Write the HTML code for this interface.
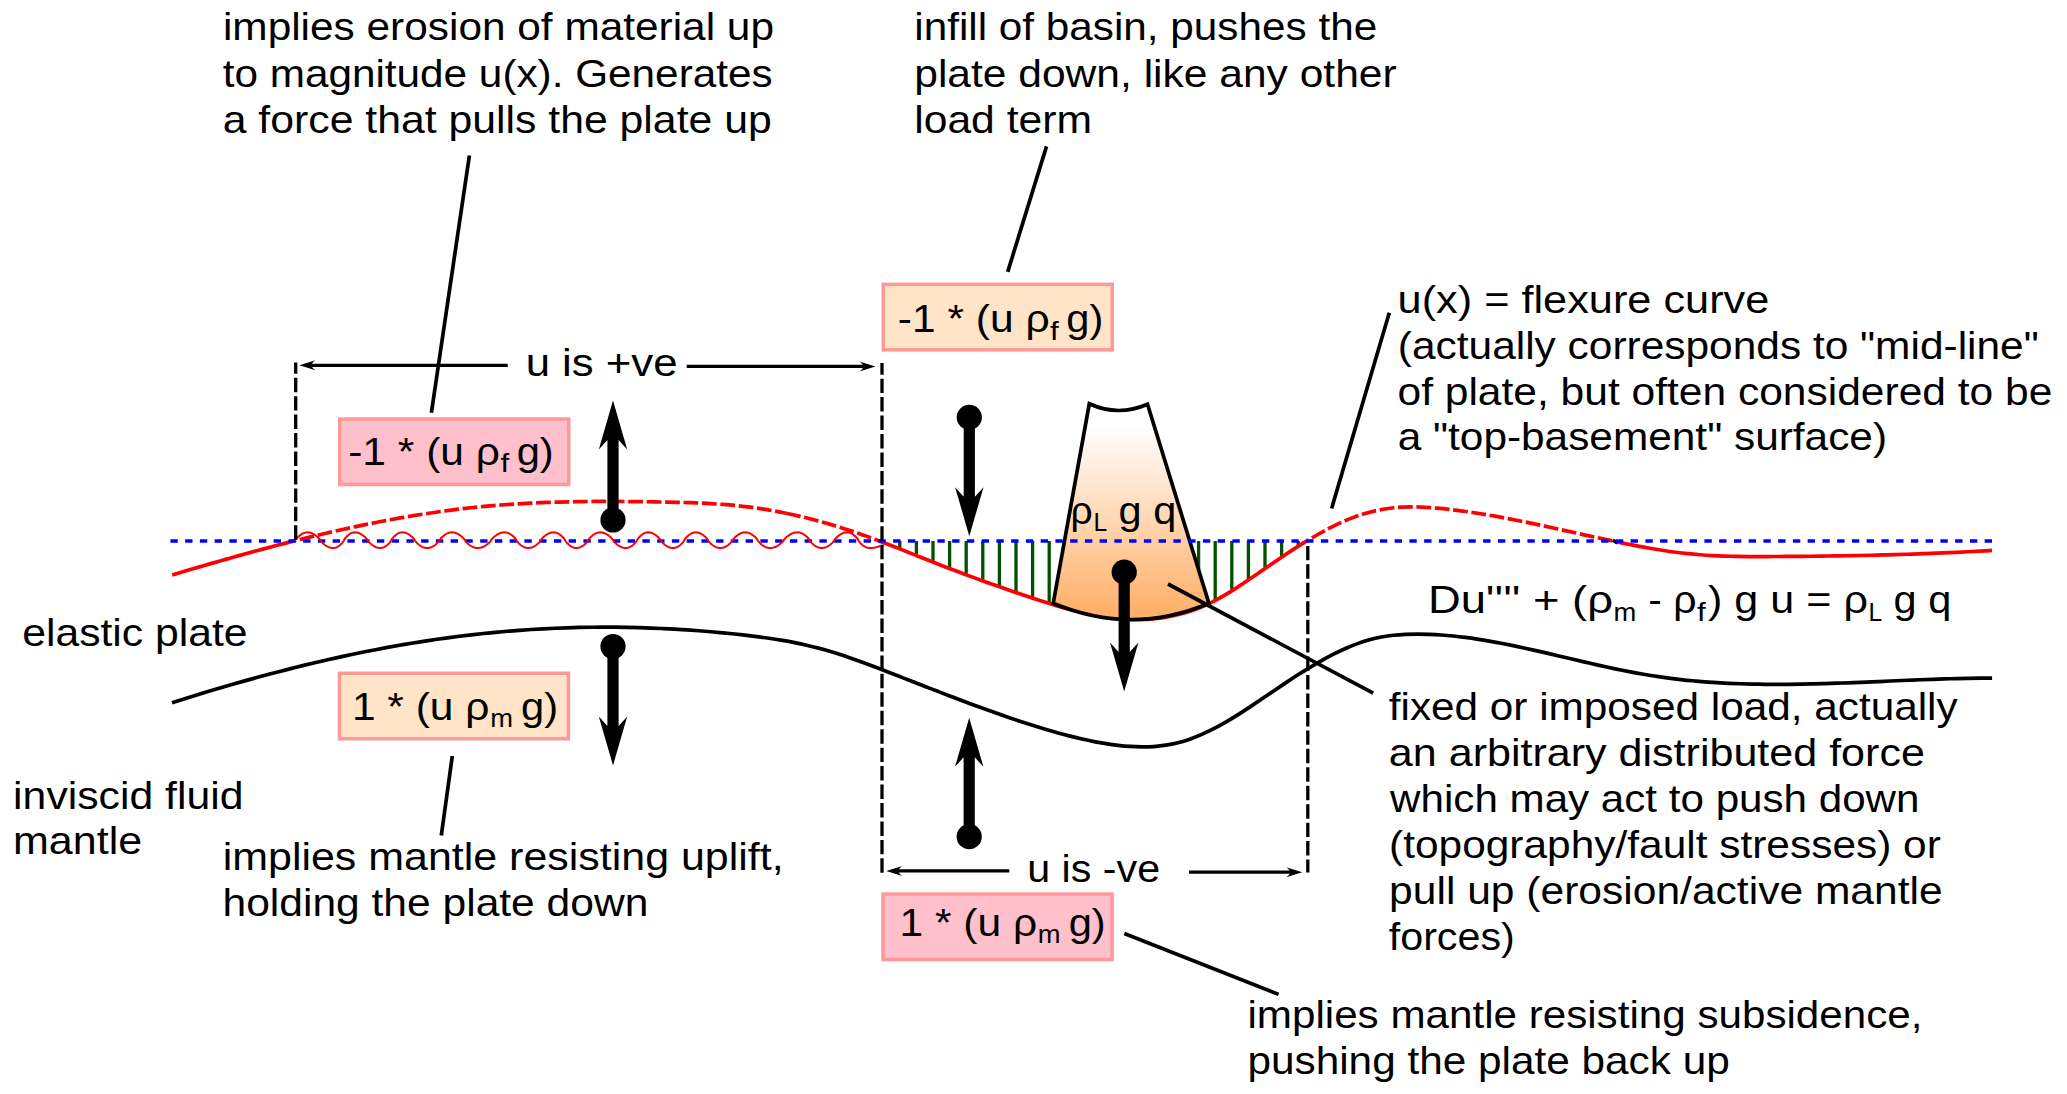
<!DOCTYPE html>
<html><head><meta charset="utf-8"><style>
html,body{margin:0;padding:0;background:#fff;width:2067px;height:1094px;overflow:hidden}
svg{display:block}
text{font-family:"Liberation Sans",sans-serif;fill:#000}
</style></head><body>
<svg width="2067" height="1094" viewBox="0 0 2067 1094">
<defs><linearGradient id="lg" x1="0" y1="425" x2="0" y2="622" gradientUnits="userSpaceOnUse">
<stop offset="0" stop-color="#ffffff"/><stop offset="1" stop-color="#ffac62"/></linearGradient></defs>
<rect width="2067" height="1094" fill="#fff"/>

<path d="M899.80,541 L899.80,547.91 M916.40,541 L916.40,554.52 M933.00,541 L933.00,561.08 M949.60,541 L949.60,567.52 M966.20,541 L966.20,573.79 M982.80,541 L982.80,579.87 M999.40,541 L999.40,585.77 M1016.00,541 L1016.00,591.53 M1032.60,541 L1032.60,597.14 M1049.20,541 L1049.20,602.47 M1065.80,541 L1065.80,607.33 M1082.40,541 L1082.40,611.53 M1099.00,541 L1099.00,614.90 M1115.60,541 L1115.60,617.23 M1132.20,541 L1132.20,618.36 M1148.80,541 L1148.80,618.10 M1165.40,541 L1165.40,616.26 M1182.00,541 L1182.00,612.66 M1198.60,541 L1198.60,607.11 M1215.20,541 L1215.20,599.44 M1231.80,541 L1231.80,589.83 M1248.40,541 L1248.40,578.95 M1265.00,541 L1265.00,567.52 M1281.60,541 L1281.60,556.17 M1298.20,541 L1298.20,545.30" stroke="#005200" stroke-width="3.3" fill="none"/>
<path d="M172.20,574.90 C174.95,574.09 177.69,573.27 180.44,572.46 C183.19,571.65 185.93,570.84 188.68,570.03 C191.43,569.23 194.17,568.42 196.92,567.62 C199.67,566.82 202.41,566.02 205.16,565.23 C207.91,564.43 210.65,563.64 213.40,562.85 C216.15,562.07 218.89,561.28 221.64,560.50 C224.39,559.72 227.13,558.94 229.88,558.17 C232.63,557.40 235.37,556.63 238.12,555.86 C240.87,555.10 243.61,554.34 246.36,553.58 C249.11,552.83 251.85,552.08 254.60,551.33 C257.35,550.59 260.09,549.84 262.84,549.11 C265.59,548.37 268.33,547.64 271.08,546.92 C273.83,546.19 276.57,545.47 279.32,544.76 C282.07,544.04 284.81,543.34 287.56,542.63 C290.31,541.93 293.05,541.24 295.80,540.55" stroke="#ff0000" stroke-width="3.7" fill="none"/>
<path d="M295.80,540.55 C299.79,539.55 303.77,538.56 307.76,537.58 C311.74,536.61 315.73,535.65 319.72,534.71 C323.70,533.76 327.69,532.83 331.68,531.92 C335.66,531.00 339.65,530.11 343.63,529.22 C347.62,528.34 351.61,527.48 355.59,526.63 C359.58,525.78 363.57,524.96 367.55,524.14 C371.54,523.33 375.52,522.54 379.51,521.77 C383.50,520.99 387.48,520.24 391.47,519.50 C395.45,518.77 399.44,518.05 403.43,517.36 C407.41,516.67 411.40,516.00 415.39,515.34 C419.37,514.69 423.36,514.06 427.34,513.46 C431.33,512.85 435.32,512.27 439.30,511.71 C443.29,511.15 447.27,510.61 451.26,510.10 C455.25,509.59 459.23,509.10 463.22,508.63 C467.21,508.17 471.19,507.73 475.18,507.32 C479.16,506.91 483.15,506.52 487.14,506.16 C491.12,505.80 495.11,505.47 499.10,505.15 C503.08,504.84 507.07,504.55 511.05,504.28 C515.04,504.02 519.03,503.77 523.01,503.55 C527.00,503.32 530.98,503.12 534.97,502.94 C538.96,502.75 542.94,502.59 546.93,502.44 C550.92,502.30 554.90,502.17 558.89,502.06 C562.87,501.94 566.86,501.85 570.85,501.77 C574.83,501.69 578.82,501.62 582.80,501.57 C586.79,501.52 590.78,501.49 594.76,501.46 C598.75,501.44 602.74,501.43 606.72,501.43 C610.71,501.43 614.69,501.44 618.68,501.46 C622.67,501.48 626.65,501.51 630.64,501.55 C634.63,501.59 638.61,501.64 642.60,501.70 C646.58,501.75 650.57,501.81 654.56,501.88 C658.54,501.95 662.53,502.02 666.51,502.10 C670.50,502.18 674.49,502.27 678.47,502.37 C682.46,502.47 686.45,502.58 690.43,502.72 C694.42,502.85 698.40,503.01 702.39,503.19 C706.38,503.38 710.36,503.59 714.35,503.84 C718.33,504.08 722.32,504.37 726.31,504.69 C730.29,505.01 734.28,505.38 738.27,505.79 C742.25,506.20 746.24,506.66 750.22,507.18 C754.21,507.70 758.20,508.27 762.18,508.89 C766.17,509.51 770.16,510.19 774.14,510.91 C778.13,511.64 782.11,512.42 786.10,513.24" stroke="#ff0000" stroke-width="3.7" fill="none" stroke-dasharray="14.8,3.63" stroke-dashoffset="14.37"/>
<path d="M786.10,513.24 C788.07,513.65 790.03,514.07 792.00,514.50 C793.97,514.93 795.93,515.38 797.90,515.83 C799.87,516.29 801.83,516.75 803.80,517.23 C805.77,517.71 807.73,518.20 809.70,518.70 C811.67,519.21 813.63,519.72 815.60,520.24 C817.57,520.77 819.53,521.30 821.50,521.85 C823.47,522.40 825.43,522.96 827.40,523.52 C829.37,524.09 831.33,524.67 833.30,525.26 C835.27,525.85 837.23,526.45 839.20,527.07 C841.17,527.68 843.13,528.30 845.10,528.93 C847.07,529.56 849.03,530.21 851.00,530.86 C852.97,531.51 854.93,532.18 856.90,532.85 C858.87,533.52 860.83,534.21 862.80,534.90 C864.77,535.59 866.73,536.30 868.70,537.01 C870.67,537.72 872.63,538.45 874.60,539.18 C876.57,539.91 878.53,540.65 880.50,541.40" stroke="#ff0000" stroke-width="3.7" fill="none" stroke-dasharray="14.8,3.63"/>
<path d="M880.50,541.40 C884.45,542.90 888.39,544.43 892.34,545.97 C896.29,547.52 900.24,549.08 904.18,550.65 C908.13,552.22 912.08,553.80 916.02,555.37 C919.97,556.94 923.92,558.51 927.87,560.06 C931.81,561.62 935.76,563.16 939.71,564.70 C943.66,566.23 947.60,567.76 951.55,569.27 C955.50,570.78 959.44,572.27 963.39,573.75 C967.34,575.22 971.29,576.68 975.23,578.13 C979.18,579.57 983.13,580.99 987.08,582.41 C991.02,583.82 994.97,585.21 998.92,586.60 C1002.86,587.98 1006.81,589.36 1010.76,590.72 C1014.71,592.08 1018.65,593.44 1022.60,594.78 C1026.55,596.12 1030.49,597.45 1034.44,598.75 C1038.39,600.05 1042.34,601.33 1046.28,602.57 C1050.23,603.80 1054.18,605.00 1058.12,606.16 C1062.07,607.31 1066.02,608.41 1069.97,609.46 C1073.91,610.50 1077.86,611.48 1081.81,612.40 C1085.76,613.31 1089.70,614.15 1093.65,614.92 C1097.60,615.68 1101.54,616.36 1105.49,616.94 C1109.44,617.53 1113.39,618.02 1117.33,618.41 C1121.28,618.80 1125.23,619.09 1129.17,619.26 C1133.12,619.43 1137.07,619.48 1141.02,619.41 C1144.96,619.34 1148.91,619.14 1152.86,618.80 C1156.81,618.47 1160.75,618.00 1164.70,617.37 C1168.65,616.75 1172.59,615.98 1176.54,615.05 C1180.49,614.12 1184.44,613.03 1188.38,611.77 C1192.33,610.50 1196.28,609.07 1200.22,607.46 C1204.17,605.84 1208.12,604.04 1212.07,602.06 C1216.01,600.07 1219.96,597.90 1223.91,595.60 C1227.86,593.30 1231.80,590.86 1235.75,588.33 C1239.70,585.80 1243.64,583.17 1247.59,580.50 C1251.54,577.82 1255.49,575.10 1259.43,572.37 C1263.38,569.64 1267.33,566.90 1271.27,564.19 C1275.22,561.48 1279.17,558.80 1283.12,556.16 C1287.06,553.51 1291.01,550.91 1294.96,548.37 C1298.91,545.83 1302.85,543.35 1306.80,540.95" stroke="#ff0000" stroke-width="3.7" fill="none"/>
<path d="M1306.80,540.95 C1310.75,538.55 1314.70,536.23 1318.65,534.00 C1322.59,531.78 1326.54,529.65 1330.49,527.64 C1334.44,525.63 1338.39,523.73 1342.34,521.97 C1346.29,520.21 1350.24,518.58 1354.18,517.11 C1358.13,515.64 1362.08,514.31 1366.03,513.17 C1369.98,512.02 1373.93,511.04 1377.88,510.23 C1381.83,509.42 1385.77,508.77 1389.72,508.27 C1393.67,507.77 1397.62,507.41 1401.57,507.20 C1405.52,506.98 1409.47,506.90 1413.42,506.93 C1417.36,506.96 1421.31,507.10 1425.26,507.32 C1429.21,507.54 1433.16,507.84 1437.11,508.19 C1441.06,508.55 1445.01,508.95 1448.95,509.39 C1452.90,509.83 1456.85,510.31 1460.80,510.83 C1464.75,511.35 1468.70,511.91 1472.65,512.50 C1476.59,513.09 1480.54,513.72 1484.49,514.37 C1488.44,515.02 1492.39,515.71 1496.34,516.42 C1500.29,517.13 1504.24,517.86 1508.18,518.62 C1512.13,519.37 1516.08,520.15 1520.03,520.95 C1523.98,521.74 1527.93,522.56 1531.88,523.39 C1535.83,524.21 1539.77,525.05 1543.72,525.91 C1547.67,526.76 1551.62,527.62 1555.57,528.48 C1559.52,529.35 1563.47,530.22 1567.42,531.10 C1571.36,531.97 1575.31,532.85 1579.26,533.73 C1583.21,534.60 1587.16,535.47 1591.11,536.34 C1595.06,537.21 1599.01,538.07 1602.95,538.92 C1606.90,539.77 1610.85,540.61 1614.80,541.44" stroke="#ff0000" stroke-width="3.7" fill="none" stroke-dasharray="14.8,3.63" stroke-dashoffset="12.48"/>
<path d="M1614.80,541.44 C1618.86,542.29 1622.91,543.13 1626.97,543.94 C1631.02,544.76 1635.08,545.55 1639.14,546.31 C1643.19,547.08 1647.25,547.81 1651.30,548.51 C1655.36,549.21 1659.42,549.88 1663.47,550.50 C1667.53,551.12 1671.58,551.70 1675.64,552.23 C1679.69,552.76 1683.75,553.24 1687.81,553.66 C1691.86,554.08 1695.92,554.44 1699.97,554.76 C1704.03,555.07 1708.09,555.33 1712.14,555.55 C1716.20,555.76 1720.25,555.94 1724.31,556.07 C1728.37,556.21 1732.42,556.31 1736.48,556.39 C1740.53,556.46 1744.59,556.51 1748.65,556.54 C1752.70,556.56 1756.76,556.57 1760.81,556.57 C1764.87,556.56 1768.92,556.54 1772.98,556.52 C1777.04,556.50 1781.09,556.48 1785.15,556.45 C1789.20,556.42 1793.26,556.39 1797.32,556.36 C1801.37,556.32 1805.43,556.28 1809.48,556.24 C1813.54,556.20 1817.60,556.15 1821.65,556.10 C1825.71,556.05 1829.76,556.00 1833.82,555.94 C1837.88,555.88 1841.93,555.81 1845.99,555.74 C1850.04,555.67 1854.10,555.60 1858.15,555.51 C1862.21,555.43 1866.27,555.35 1870.32,555.26 C1874.38,555.16 1878.43,555.07 1882.49,554.96 C1886.55,554.86 1890.60,554.75 1894.66,554.63 C1898.71,554.51 1902.77,554.39 1906.83,554.26 C1910.88,554.13 1914.94,553.99 1918.99,553.85 C1923.05,553.70 1927.11,553.55 1931.16,553.39 C1935.22,553.23 1939.27,553.07 1943.33,552.89 C1947.38,552.72 1951.44,552.54 1955.50,552.35 C1959.55,552.16 1963.61,551.96 1967.66,551.75 C1971.72,551.54 1975.78,551.33 1979.83,551.10 C1983.89,550.88 1987.94,550.64 1992.00,550.40" stroke="#ff0000" stroke-width="3.7" fill="none"/>
<path d="M1089.3,403.8 Q1118,417 1147.5,404.2 L1208.9,603.3 Q1132,636 1053.2,603.3 Z" fill="url(#lg)" stroke="#000" stroke-width="3.7" stroke-linejoin="miter"/>
<path d="M1612.8,540.2 L1617.6,543" stroke="#000" stroke-width="3.6" fill="none"/>
<path d="M170.4,541 L1992,541" stroke="#0000ff" stroke-width="3.7" stroke-dasharray="7.37,7.38" fill="none"/>
<path d="M294.60,540.20 L295.65,539.18 L296.70,538.17 L297.75,537.20 L298.80,536.28 L299.85,535.42 L300.90,534.65 L301.95,533.97 L303.00,533.40 L304.05,532.95 L305.10,532.62 L306.15,532.42 L307.20,532.35 L308.29,532.40 L309.38,532.56 L310.46,532.83 L311.55,533.20 L312.64,533.68 L313.73,534.25 L314.81,534.92 L315.90,535.69 L316.99,536.56 L318.07,537.54 L319.16,538.66 L320.25,540.20 L321.34,541.74 L322.43,542.86 L323.51,543.84 L324.60,544.71 L325.69,545.48 L326.77,546.15 L327.86,546.72 L328.95,547.20 L330.04,547.57 L331.12,547.84 L332.21,548.00 L333.30,548.05 L334.20,548.00 L335.09,547.84 L335.99,547.57 L336.88,547.20 L337.78,546.72 L338.68,546.15 L339.57,545.48 L340.47,544.71 L341.36,543.84 L342.26,542.86 L343.15,541.74 L344.05,540.20 L344.95,538.66 L345.84,537.54 L346.74,536.56 L347.63,535.69 L348.53,534.92 L349.43,534.25 L350.32,533.68 L351.22,533.20 L352.11,532.83 L353.01,532.56 L353.90,532.40 L354.80,532.35 L355.86,532.40 L356.93,532.56 L357.99,532.83 L359.05,533.20 L360.11,533.68 L361.18,534.25 L362.24,534.92 L363.30,535.69 L364.36,536.56 L365.43,537.54 L366.49,538.66 L367.55,540.20 L368.61,541.74 L369.68,542.86 L370.74,543.84 L371.80,544.71 L372.86,545.48 L373.93,546.15 L374.99,546.72 L376.05,547.20 L377.11,547.57 L378.18,547.84 L379.24,548.00 L380.30,548.05 L381.22,548.00 L382.13,547.84 L383.05,547.57 L383.97,547.20 L384.88,546.72 L385.80,546.15 L386.72,545.48 L387.63,544.71 L388.55,543.84 L389.47,542.86 L390.38,541.74 L391.30,540.20 L392.22,538.66 L393.13,537.54 L394.05,536.56 L394.97,535.69 L395.88,534.92 L396.80,534.25 L397.72,533.68 L398.63,533.20 L399.55,532.83 L400.47,532.56 L401.38,532.40 L402.30,532.35 L403.34,532.40 L404.38,532.56 L405.41,532.83 L406.45,533.20 L407.49,533.68 L408.52,534.25 L409.56,534.92 L410.60,535.69 L411.64,536.56 L412.68,537.54 L413.71,538.66 L414.75,540.20 L415.79,541.74 L416.82,542.86 L417.86,543.84 L418.90,544.71 L419.94,545.48 L420.98,546.15 L422.01,546.72 L423.05,547.20 L424.09,547.57 L425.12,547.84 L426.16,548.00 L427.20,548.05 L428.23,548.00 L429.27,547.84 L430.30,547.57 L431.33,547.20 L432.37,546.72 L433.40,546.15 L434.43,545.48 L435.47,544.71 L436.50,543.84 L437.53,542.86 L438.57,541.74 L439.60,540.20 L440.63,538.66 L441.67,537.54 L442.70,536.56 L443.73,535.69 L444.77,534.92 L445.80,534.25 L446.83,533.68 L447.87,533.20 L448.90,532.83 L449.93,532.56 L450.97,532.40 L452.00,532.35 L453.07,532.40 L454.14,532.56 L455.21,532.83 L456.28,533.20 L457.35,533.68 L458.43,534.25 L459.50,534.92 L460.57,535.69 L461.64,536.56 L462.71,537.54 L463.78,538.66 L464.85,540.20 L465.92,541.74 L466.99,542.86 L468.06,543.84 L469.13,544.71 L470.20,545.48 L471.27,546.15 L472.35,546.72 L473.42,547.20 L474.49,547.57 L475.56,547.84 L476.63,548.00 L477.70,548.05 L478.82,548.00 L479.94,547.84 L481.06,547.57 L482.18,547.20 L483.30,546.72 L484.43,546.15 L485.55,545.48 L486.67,544.71 L487.79,543.84 L488.91,542.86 L490.03,541.74 L491.15,540.20 L492.27,538.66 L493.39,537.54 L494.51,536.56 L495.63,535.69 L496.75,534.92 L497.88,534.25 L499.00,533.68 L500.12,533.20 L501.24,532.83 L502.36,532.56 L503.48,532.40 L504.60,532.35 L505.58,532.40 L506.57,532.56 L507.55,532.83 L508.53,533.20 L509.52,533.68 L510.50,534.25 L511.48,534.92 L512.47,535.69 L513.45,536.56 L514.43,537.54 L515.42,538.66 L516.40,540.20 L517.38,541.74 L518.37,542.86 L519.35,543.84 L520.33,544.71 L521.32,545.48 L522.30,546.15 L523.28,546.72 L524.27,547.20 L525.25,547.57 L526.23,547.84 L527.22,548.00 L528.20,548.05 L529.26,548.00 L530.32,547.84 L531.38,547.57 L532.43,547.20 L533.49,546.72 L534.55,546.15 L535.61,545.48 L536.67,544.71 L537.73,543.84 L538.78,542.86 L539.84,541.74 L540.90,540.20 L541.96,538.66 L543.02,537.54 L544.08,536.56 L545.13,535.69 L546.19,534.92 L547.25,534.25 L548.31,533.68 L549.37,533.20 L550.43,532.83 L551.48,532.56 L552.54,532.40 L553.60,532.35 L554.55,532.40 L555.50,532.56 L556.45,532.83 L557.40,533.20 L558.35,533.68 L559.30,534.25 L560.25,534.92 L561.20,535.69 L562.15,536.56 L563.10,537.54 L564.05,538.66 L565.00,540.20 L565.95,541.74 L566.90,542.86 L567.85,543.84 L568.80,544.71 L569.75,545.48 L570.70,546.15 L571.65,546.72 L572.60,547.20 L573.55,547.57 L574.50,547.84 L575.45,548.00 L576.40,548.05 L577.39,548.00 L578.38,547.84 L579.38,547.57 L580.37,547.20 L581.36,546.72 L582.35,546.15 L583.34,545.48 L584.33,544.71 L585.33,543.84 L586.32,542.86 L587.31,541.74 L588.30,540.20 L589.29,538.66 L590.28,537.54 L591.27,536.56 L592.27,535.69 L593.26,534.92 L594.25,534.25 L595.24,533.68 L596.23,533.20 L597.23,532.83 L598.22,532.56 L599.21,532.40 L600.20,532.35 L601.27,532.40 L602.34,532.56 L603.41,532.83 L604.48,533.20 L605.55,533.68 L606.62,534.25 L607.70,534.92 L608.77,535.69 L609.84,536.56 L610.91,537.54 L611.98,538.66 L613.05,540.20 L614.12,541.74 L615.19,542.86 L616.26,543.84 L617.33,544.71 L618.40,545.48 L619.48,546.15 L620.55,546.72 L621.62,547.20 L622.69,547.57 L623.76,547.84 L624.83,548.00 L625.90,548.05 L626.82,548.00 L627.75,547.84 L628.67,547.57 L629.60,547.20 L630.52,546.72 L631.45,546.15 L632.38,545.48 L633.30,544.71 L634.23,543.84 L635.15,542.86 L636.08,541.74 L637.00,540.20 L637.92,538.66 L638.85,537.54 L639.77,536.56 L640.70,535.69 L641.62,534.92 L642.55,534.25 L643.48,533.68 L644.40,533.20 L645.33,532.83 L646.25,532.56 L647.18,532.40 L648.10,532.35 L649.14,532.40 L650.18,532.56 L651.23,532.83 L652.27,533.20 L653.31,533.68 L654.35,534.25 L655.39,534.92 L656.43,535.69 L657.48,536.56 L658.52,537.54 L659.56,538.66 L660.60,540.20 L661.64,541.74 L662.68,542.86 L663.73,543.84 L664.77,544.71 L665.81,545.48 L666.85,546.15 L667.89,546.72 L668.93,547.20 L669.98,547.57 L671.02,547.84 L672.06,548.00 L673.10,548.05 L674.04,548.00 L674.98,547.84 L675.93,547.57 L676.87,547.20 L677.81,546.72 L678.75,546.15 L679.69,545.48 L680.63,544.71 L681.58,543.84 L682.52,542.86 L683.46,541.74 L684.40,540.20 L685.34,538.66 L686.28,537.54 L687.23,536.56 L688.17,535.69 L689.11,534.92 L690.05,534.25 L690.99,533.68 L691.93,533.20 L692.88,532.83 L693.82,532.56 L694.76,532.40 L695.70,532.35 L696.72,532.40 L697.75,532.56 L698.77,532.83 L699.79,533.20 L700.81,533.68 L701.84,534.25 L702.86,534.92 L703.88,535.69 L704.91,536.56 L705.93,537.54 L706.95,538.66 L707.98,540.20 L709.00,541.74 L710.02,542.86 L711.04,543.84 L712.07,544.71 L713.09,545.48 L714.11,546.15 L715.14,546.72 L716.16,547.20 L717.18,547.57 L718.20,547.84 L719.23,548.00 L720.25,548.05 L721.29,548.00 L722.33,547.84 L723.37,547.57 L724.41,547.20 L725.45,546.72 L726.49,546.15 L727.53,545.48 L728.57,544.71 L729.61,543.84 L730.65,542.86 L731.69,541.74 L732.73,540.20 L733.76,538.66 L734.80,537.54 L735.84,536.56 L736.88,535.69 L737.92,534.92 L738.96,534.25 L740.00,533.68 L741.04,533.20 L742.08,532.83 L743.12,532.56 L744.16,532.40 L745.20,532.35 L746.24,532.40 L747.28,532.56 L748.31,532.83 L749.35,533.20 L750.39,533.68 L751.43,534.25 L752.46,534.92 L753.50,535.69 L754.54,536.56 L755.58,537.54 L756.61,538.66 L757.65,540.20 L758.69,541.74 L759.73,542.86 L760.76,543.84 L761.80,544.71 L762.84,545.48 L763.88,546.15 L764.91,546.72 L765.95,547.20 L766.99,547.57 L768.02,547.84 L769.06,548.00 L770.10,548.05 L771.24,548.00 L772.38,547.84 L773.52,547.57 L774.67,547.20 L775.81,546.72 L776.95,546.15 L778.09,545.48 L779.23,544.71 L780.38,543.84 L781.52,542.86 L782.66,541.74 L783.80,540.20 L784.94,538.66 L786.08,537.54 L787.23,536.56 L788.37,535.69 L789.51,534.92 L790.65,534.25 L791.79,533.68 L792.93,533.20 L794.08,532.83 L795.22,532.56 L796.36,532.40 L797.50,532.35 L798.51,532.40 L799.52,532.56 L800.52,532.83 L801.53,533.20 L802.54,533.68 L803.55,534.25 L804.56,534.92 L805.57,535.69 L806.58,536.56 L807.58,537.54 L808.59,538.66 L809.60,540.20 L810.61,541.74 L811.62,542.86 L812.62,543.84 L813.63,544.71 L814.64,545.48 L815.65,546.15 L816.66,546.72 L817.67,547.20 L818.68,547.57 L819.68,547.84 L820.69,548.00 L821.70,548.05 L822.76,548.00 L823.82,547.84 L824.88,547.57 L825.93,547.20 L826.99,546.72 L828.05,546.15 L829.11,545.48 L830.17,544.71 L831.23,543.84 L832.28,542.86 L833.34,541.74 L834.40,540.20 L835.46,538.66 L836.52,537.54 L837.58,536.56 L838.63,535.69 L839.69,534.92 L840.75,534.25 L841.81,533.68 L842.87,533.20 L843.93,532.83 L844.98,532.56 L846.04,532.40 L847.10,532.35 L848.04,532.40 L848.98,532.56 L849.91,532.83 L850.85,533.20 L851.79,533.68 L852.73,534.25 L853.66,534.92 L854.60,535.69 L855.54,536.56 L856.48,537.54 L857.41,538.66 L858.35,540.20 L859.29,541.74 L860.23,542.86 L861.16,543.84 L862.10,544.71 L863.04,545.48 L863.98,546.15 L864.91,546.72 L865.85,547.20 L866.79,547.57 L867.73,547.84 L868.66,548.00 L869.60,548.05 L870.49,548.03 L871.38,547.99 L872.27,547.91 L873.17,547.81 L874.06,547.67 L874.95,547.51 L875.84,547.32 L876.73,547.10 L877.62,546.85 L878.52,546.58 L879.41,546.28 L880.30,545.96" stroke="#ff0000" stroke-width="2" fill="none"/>
<path d="M172.00,702.77 C175.99,701.49 179.98,700.22 183.97,698.97 C187.97,697.72 191.96,696.48 195.95,695.25 C199.94,694.02 203.93,692.80 207.92,691.60 C211.91,690.40 215.91,689.21 219.90,688.03 C223.89,686.86 227.88,685.69 231.87,684.54 C235.86,683.40 239.85,682.26 243.85,681.14 C247.84,680.02 251.83,678.91 255.82,677.82 C259.81,676.72 263.80,675.64 267.79,674.58 C271.79,673.52 275.78,672.47 279.77,671.43 C283.76,670.40 287.75,669.38 291.74,668.38 C295.73,667.37 299.73,666.39 303.72,665.41 C307.71,664.44 311.70,663.49 315.69,662.55 C319.68,661.61 323.67,660.68 327.67,659.77 C331.66,658.87 335.65,657.98 339.64,657.10 C343.63,656.23 347.62,655.37 351.62,654.53 C355.61,653.69 359.60,652.87 363.59,652.06 C367.58,651.26 371.57,650.47 375.56,649.70 C379.56,648.93 383.55,648.18 387.54,647.44 C391.53,646.71 395.52,646.00 399.51,645.30 C403.50,644.60 407.50,643.92 411.49,643.27 C415.48,642.61 419.47,641.97 423.46,641.35 C427.45,640.72 431.44,640.12 435.44,639.54 C439.43,638.96 443.42,638.40 447.41,637.86 C451.40,637.31 455.39,636.79 459.38,636.29 C463.38,635.79 467.37,635.31 471.36,634.85 C475.35,634.39 479.34,633.95 483.33,633.53 C487.32,633.11 491.32,632.71 495.31,632.34 C499.30,631.96 503.29,631.60 507.28,631.27 C511.27,630.93 515.26,630.62 519.26,630.33 C523.25,630.03 527.24,629.76 531.23,629.51 C535.22,629.26 539.21,629.03 543.20,628.81 C547.20,628.60 551.19,628.41 555.18,628.24 C559.17,628.07 563.16,627.92 567.15,627.80 C571.14,627.67 575.14,627.56 579.13,627.47 C583.12,627.38 587.11,627.31 591.10,627.26 C595.09,627.22 599.08,627.19 603.08,627.18 C607.07,627.17 611.06,627.18 615.05,627.21 C619.04,627.24 623.03,627.30 627.03,627.37 C631.02,627.44 635.01,627.53 639.00,627.64 C642.99,627.75 646.98,627.88 650.97,628.03 C654.97,628.18 658.96,628.35 662.95,628.54 C666.94,628.73 670.93,628.93 674.92,629.16 C678.91,629.39 682.91,629.64 686.90,629.90 C690.89,630.17 694.88,630.45 698.87,630.76 C702.86,631.06 706.85,631.38 710.85,631.73 C714.84,632.07 718.83,632.43 722.82,632.81 C726.81,633.19 730.80,633.59 734.79,634.01 C738.79,634.43 742.78,634.86 746.77,635.33 C750.76,635.79 754.75,636.28 758.74,636.80 C762.73,637.33 766.73,637.89 770.72,638.48 C774.71,639.08 778.70,639.72 782.69,640.41 C786.68,641.10 790.67,641.84 794.67,642.63 C798.66,643.43 802.65,644.28 806.64,645.19 C810.63,646.10 814.62,647.08 818.61,648.12 C822.61,649.17 826.60,650.29 830.59,651.48 C834.58,652.68 838.57,653.95 842.56,655.27 C846.55,656.59 850.55,657.98 854.54,659.40 C858.53,660.82 862.52,662.29 866.51,663.78 C870.50,665.28 874.49,666.80 878.49,668.33 C882.48,669.86 886.47,671.40 890.46,672.95 C894.45,674.49 898.44,676.05 902.43,677.60 C906.43,679.15 910.42,680.71 914.41,682.26 C918.40,683.82 922.39,685.38 926.38,686.93 C930.37,688.48 934.37,690.03 938.36,691.57 C942.35,693.11 946.34,694.65 950.33,696.17 C954.32,697.70 958.32,699.21 962.31,700.72 C966.30,702.22 970.29,703.72 974.28,705.19 C978.27,706.67 982.26,708.13 986.26,709.58 C990.25,711.02 994.24,712.45 998.23,713.85 C1002.22,715.25 1006.21,716.64 1010.20,718.00 C1014.20,719.36 1018.19,720.69 1022.18,722.00 C1026.17,723.31 1030.16,724.60 1034.15,725.85 C1038.14,727.10 1042.14,728.33 1046.13,729.51 C1050.12,730.70 1054.11,731.86 1058.10,732.97 C1062.09,734.08 1066.08,735.14 1070.08,736.16 C1074.07,737.17 1078.06,738.14 1082.05,739.04 C1086.04,739.94 1090.03,740.79 1094.02,741.56 C1098.02,742.34 1102.01,743.04 1106.00,743.67 C1109.99,744.30 1113.98,744.86 1117.97,745.33 C1121.96,745.80 1125.96,746.18 1129.95,746.45 C1133.94,746.73 1137.93,746.89 1141.92,746.91 C1145.91,746.94 1149.90,746.82 1153.90,746.55 C1157.89,746.27 1161.88,745.83 1165.87,745.20 C1169.86,744.57 1173.85,743.75 1177.84,742.74 C1181.84,741.73 1185.83,740.54 1189.82,739.15 C1193.81,737.76 1197.80,736.18 1201.79,734.42 C1205.78,732.67 1209.78,730.74 1213.77,728.67 C1217.76,726.60 1221.75,724.39 1225.74,722.07 C1229.73,719.75 1233.72,717.33 1237.72,714.82 C1241.71,712.31 1245.70,709.72 1249.69,707.09 C1253.68,704.45 1257.67,701.77 1261.67,699.07 C1265.66,696.37 1269.65,693.65 1273.64,690.95 C1277.63,688.24 1281.62,685.55 1285.61,682.90 C1289.61,680.24 1293.60,677.62 1297.59,675.06 C1301.58,672.50 1305.57,670.00 1309.56,667.57 C1313.55,665.15 1317.55,662.80 1321.54,660.56 C1325.53,658.31 1329.52,656.16 1333.51,654.14 C1337.50,652.12 1341.49,650.21 1345.49,648.46 C1349.48,646.70 1353.47,645.08 1357.46,643.63 C1361.45,642.18 1365.44,640.90 1369.43,639.80 C1373.43,638.70 1377.42,637.79 1381.41,637.05 C1385.40,636.30 1389.39,635.72 1393.38,635.27 C1397.37,634.83 1401.37,634.52 1405.36,634.33 C1409.35,634.14 1413.34,634.06 1417.33,634.06 C1421.32,634.06 1425.31,634.15 1429.31,634.31 C1433.30,634.47 1437.29,634.69 1441.28,634.98 C1445.27,635.27 1449.26,635.62 1453.25,636.02 C1457.25,636.43 1461.24,636.90 1465.23,637.41 C1469.22,637.93 1473.21,638.49 1477.20,639.11 C1481.19,639.72 1485.19,640.37 1489.18,641.07 C1493.17,641.76 1497.16,642.50 1501.15,643.26 C1505.14,644.03 1509.13,644.83 1513.13,645.66 C1517.12,646.48 1521.11,647.33 1525.10,648.21 C1529.09,649.08 1533.08,649.97 1537.08,650.88 C1541.07,651.79 1545.06,652.71 1549.05,653.65 C1553.04,654.58 1557.03,655.52 1561.02,656.46 C1565.02,657.40 1569.01,658.35 1573.00,659.29 C1576.99,660.23 1580.98,661.16 1584.97,662.09 C1588.96,663.02 1592.96,663.94 1596.95,664.84 C1600.94,665.74 1604.93,666.63 1608.92,667.49 C1612.91,668.36 1616.90,669.20 1620.90,670.02 C1624.89,670.83 1628.88,671.62 1632.87,672.37 C1636.86,673.12 1640.85,673.84 1644.84,674.52 C1648.84,675.20 1652.83,675.84 1656.82,676.44 C1660.81,677.03 1664.80,677.59 1668.79,678.11 C1672.78,678.63 1676.78,679.11 1680.77,679.55 C1684.76,680.00 1688.75,680.41 1692.74,680.78 C1696.73,681.15 1700.72,681.49 1704.72,681.80 C1708.71,682.11 1712.70,682.39 1716.69,682.63 C1720.68,682.88 1724.67,683.10 1728.66,683.29 C1732.66,683.48 1736.65,683.64 1740.64,683.77 C1744.63,683.91 1748.62,684.02 1752.61,684.11 C1756.60,684.19 1760.60,684.26 1764.59,684.30 C1768.58,684.34 1772.57,684.36 1776.56,684.36 C1780.55,684.37 1784.54,684.35 1788.54,684.31 C1792.53,684.28 1796.52,684.23 1800.51,684.16 C1804.50,684.09 1808.49,684.01 1812.48,683.92 C1816.48,683.82 1820.47,683.72 1824.46,683.60 C1828.45,683.48 1832.44,683.35 1836.43,683.21 C1840.42,683.07 1844.42,682.93 1848.41,682.78 C1852.40,682.62 1856.39,682.46 1860.38,682.30 C1864.37,682.13 1868.37,681.97 1872.36,681.80 C1876.35,681.62 1880.34,681.45 1884.33,681.28 C1888.32,681.10 1892.31,680.93 1896.31,680.76 C1900.30,680.59 1904.29,680.42 1908.28,680.25 C1912.27,680.09 1916.26,679.92 1920.25,679.77 C1924.25,679.61 1928.24,679.46 1932.23,679.32 C1936.22,679.18 1940.21,679.05 1944.20,678.92 C1948.19,678.80 1952.19,678.69 1956.18,678.59 C1960.17,678.49 1964.16,678.40 1968.15,678.33 C1972.14,678.25 1976.13,678.19 1980.13,678.15 C1984.12,678.11 1988.11,678.09 1992.10,678.08" stroke="#000" stroke-width="3.7" fill="none"/>
<path d="M295.7,362.4 L295.7,540" stroke="#000" stroke-width="3.3" stroke-dasharray="14.45,4" fill="none" stroke-dashoffset="3.15"/>
<path d="M882,362.9 L882,872.7" stroke="#000" stroke-width="3.3" stroke-dasharray="14.45,4" fill="none" stroke-dashoffset="2.7"/>
<path d="M1307.8,545.9 L1307.8,872.5" stroke="#000" stroke-width="3.3" stroke-dasharray="14.45,4" fill="none"/>
<path d="M305,365.3 L507.7,365.3 M686.7,366.4 L869,366.4 M892,870.9 L1009.3,870.9 M1189,872.2 L1296,872.2" stroke="#000" stroke-width="3.2" fill="none"/>
<path d="M299.40,365.30 L315.40,360.30 C310.40,363.30 310.40,367.30 315.40,370.30 Z" fill="#000"/>
<path d="M875.40,366.40 L859.40,361.40 C864.40,364.40 864.40,368.40 859.40,371.40 Z" fill="#000"/>
<path d="M886.30,870.90 L902.30,865.90 C897.30,868.90 897.30,872.90 902.30,875.90 Z" fill="#000"/>
<path d="M1302.20,872.20 L1286.20,867.20 C1291.20,870.20 1291.20,874.20 1286.20,877.20 Z" fill="#000"/>
<rect x="883.25" y="284.35" width="229" height="65.5" fill="#ffe4c8" stroke="#ff9999" stroke-width="3.5"/>
<rect x="339.75" y="419.05" width="229" height="65.5" fill="#ffc0cb" stroke="#ff9999" stroke-width="3.5"/>
<rect x="339.45" y="673.25" width="229" height="65.5" fill="#ffe4c8" stroke="#ff9999" stroke-width="3.5"/>
<rect x="883.05" y="894.05" width="229" height="65.5" fill="#ffc0cb" stroke="#ff9999" stroke-width="3.5"/>
<path d="M607.40,520.00 L607.40,440.00 L598.80,449.50 L613.00,400.50 L627.20,449.50 L618.60,440.00 L618.60,520.00Z" fill="#000"/><circle cx="613" cy="520" r="12.6" fill="#000"/>
<path d="M607.40,646.50 L607.40,725.90 L598.80,716.40 L613.00,765.40 L627.20,716.40 L618.60,725.90 L618.60,646.50Z" fill="#000"/><circle cx="613" cy="646.5" r="12.6" fill="#000"/>
<path d="M963.70,417.30 L963.70,496.70 L955.10,487.20 L969.30,536.20 L983.50,487.20 L974.90,496.70 L974.90,417.30Z" fill="#000"/><circle cx="969.3" cy="417.3" r="12.6" fill="#000"/>
<path d="M1118.60,572.20 L1118.60,652.00 L1110.00,642.50 L1124.20,691.50 L1138.40,642.50 L1129.80,652.00 L1129.80,572.20Z" fill="#000"/><circle cx="1124.2" cy="572.2" r="12.6" fill="#000"/>
<path d="M963.60,836.70 L963.60,757.30 L955.00,766.80 L969.20,717.80 L983.40,766.80 L974.80,757.30 L974.80,836.70Z" fill="#000"/><circle cx="969.2" cy="836.7" r="12.6" fill="#000"/>
<path d="M469.4,155.4 L431.4,412.7" stroke="#000" stroke-width="3.7" fill="none"/>
<path d="M1046.5,146.4 L1007.7,271.9" stroke="#000" stroke-width="3.7" fill="none"/>
<path d="M1389.3,312.7 L1331.6,508.5" stroke="#000" stroke-width="3.7" fill="none"/>
<path d="M1168,584 L1373.2,693.1" stroke="#000" stroke-width="3.7" fill="none"/>
<path d="M452.3,756 L441.3,835.4" stroke="#000" stroke-width="3.7" fill="none"/>
<path d="M1124.3,933.5 L1278.6,994.4" stroke="#000" stroke-width="3.7" fill="none"/>
<text x="222.95" y="40.40" font-size="38.50" textLength="551.03" lengthAdjust="spacingAndGlyphs">implies erosion of material up</text>
<text x="222.65" y="86.70" font-size="38.50" textLength="550.00" lengthAdjust="spacingAndGlyphs">to magnitude u(x). Generates</text>
<text x="222.71" y="133.00" font-size="38.50" textLength="549.05" lengthAdjust="spacingAndGlyphs">a force that pulls the plate up</text>
<text x="914.26" y="40.40" font-size="38.50" textLength="462.91" lengthAdjust="spacingAndGlyphs">infill of basin, pushes the</text>
<text x="914.22" y="86.70" font-size="38.50" textLength="482.46" lengthAdjust="spacingAndGlyphs">plate down, like any other</text>
<text x="914.21" y="133.00" font-size="38.50" textLength="177.77" lengthAdjust="spacingAndGlyphs">load term</text>
<text x="1397.58" y="313.00" font-size="38.50" textLength="371.72" lengthAdjust="spacingAndGlyphs">u(x) = flexure curve</text>
<text x="1397.80" y="358.80" font-size="38.50" textLength="640.95" lengthAdjust="spacingAndGlyphs">(actually corresponds to &quot;mid-line&quot;</text>
<text x="1397.51" y="404.60" font-size="38.50" textLength="654.82" lengthAdjust="spacingAndGlyphs">of plate, but often considered to be</text>
<text x="1397.67" y="450.40" font-size="38.50" textLength="489.38" lengthAdjust="spacingAndGlyphs">a &quot;top-basement&quot; surface)</text>
<text x="525.65" y="376.40" font-size="38.50" textLength="151.86" lengthAdjust="spacingAndGlyphs">u is +ve</text>
<text x="22.23" y="646.20" font-size="38.50" textLength="225.29" lengthAdjust="spacingAndGlyphs">elastic plate</text>
<text x="13.13" y="808.60" font-size="38.50" textLength="230.34" lengthAdjust="spacingAndGlyphs">inviscid fluid</text>
<text x="13.00" y="854.30" font-size="38.50" textLength="129.16" lengthAdjust="spacingAndGlyphs">mantle</text>
<text x="222.71" y="870.20" font-size="38.50" textLength="560.90" lengthAdjust="spacingAndGlyphs">implies mantle resisting uplift,</text>
<text x="222.51" y="916.00" font-size="38.50" textLength="425.83" lengthAdjust="spacingAndGlyphs">holding the plate down</text>
<text x="1027.21" y="881.80" font-size="38.50" textLength="132.95" lengthAdjust="spacingAndGlyphs">u is -ve</text>
<text x="1388.75" y="720.20" font-size="38.50" textLength="568.85" lengthAdjust="spacingAndGlyphs">fixed or imposed load, actually</text>
<text x="1388.89" y="766.20" font-size="38.50" textLength="536.01" lengthAdjust="spacingAndGlyphs">an arbitrary distributed force</text>
<text x="1390.12" y="812.20" font-size="38.50" textLength="529.35" lengthAdjust="spacingAndGlyphs">which may act to push down</text>
<text x="1389.05" y="858.20" font-size="38.50" textLength="551.81" lengthAdjust="spacingAndGlyphs">(topography/fault stresses) or</text>
<text x="1389.12" y="904.20" font-size="38.50" textLength="553.55" lengthAdjust="spacingAndGlyphs">pull up (erosion/active mantle</text>
<text x="1388.77" y="950.20" font-size="38.50" textLength="125.99" lengthAdjust="spacingAndGlyphs">forces)</text>
<text x="1247.47" y="1028.20" font-size="38.50" textLength="674.98" lengthAdjust="spacingAndGlyphs">implies mantle resisting subsidence,</text>
<text x="1247.43" y="1074.30" font-size="38.50" textLength="482.34" lengthAdjust="spacingAndGlyphs">pushing the plate back up</text>
<text x="897.87" y="332.25" font-size="38.50" textLength="151.81" lengthAdjust="spacingAndGlyphs">-1 * (u ρ</text>
<text x="1050.10" y="339.75" font-size="24.97" textLength="8.76" lengthAdjust="spacingAndGlyphs">f</text>
<text x="1066.37" y="332.25" font-size="38.50" textLength="37.03" lengthAdjust="spacingAndGlyphs">g)</text>
<text x="348.17" y="464.50" font-size="38.50" textLength="151.81" lengthAdjust="spacingAndGlyphs">-1 * (u ρ</text>
<text x="500.40" y="472.00" font-size="24.97" textLength="8.76" lengthAdjust="spacingAndGlyphs">f</text>
<text x="516.67" y="464.50" font-size="38.50" textLength="37.03" lengthAdjust="spacingAndGlyphs">g)</text>
<text x="351.93" y="719.70" font-size="38.50" textLength="137.55" lengthAdjust="spacingAndGlyphs">1 * (u ρ</text>
<text x="490.16" y="727.20" font-size="24.97" textLength="22.78" lengthAdjust="spacingAndGlyphs">m</text>
<text x="521.10" y="719.70" font-size="38.50" textLength="37.03" lengthAdjust="spacingAndGlyphs">g)</text>
<text x="899.53" y="935.80" font-size="38.50" textLength="137.55" lengthAdjust="spacingAndGlyphs">1 * (u ρ</text>
<text x="1037.76" y="943.30" font-size="24.97" textLength="22.78" lengthAdjust="spacingAndGlyphs">m</text>
<text x="1068.70" y="935.80" font-size="38.50" textLength="37.03" lengthAdjust="spacingAndGlyphs">g)</text>
<text x="1427.97" y="613.10" font-size="38.50" textLength="184.95" lengthAdjust="spacingAndGlyphs">Du'''' + (ρ</text>
<text x="1613.49" y="620.60" font-size="24.97" textLength="22.78" lengthAdjust="spacingAndGlyphs">m</text>
<text x="1648.25" y="613.10" font-size="38.50" textLength="48.22" lengthAdjust="spacingAndGlyphs">- ρ</text>
<text x="1696.97" y="620.60" font-size="24.97" textLength="8.76" lengthAdjust="spacingAndGlyphs">f</text>
<text x="1708.02" y="613.10" font-size="38.50" textLength="159.90" lengthAdjust="spacingAndGlyphs">) g u = ρ</text>
<text x="1868.54" y="620.60" font-size="24.97" textLength="13.73" lengthAdjust="spacingAndGlyphs">L</text>
<text x="1893.64" y="613.10" font-size="38.50" textLength="57.73" lengthAdjust="spacingAndGlyphs">g q</text>
<text x="1070.50" y="523.50" font-size="38.50" textLength="22.18" lengthAdjust="spacingAndGlyphs">ρ</text>
<text x="1093.47" y="531.00" font-size="24.97" textLength="13.73" lengthAdjust="spacingAndGlyphs">L</text>
<text x="1118.57" y="523.50" font-size="38.50" textLength="57.73" lengthAdjust="spacingAndGlyphs">g q</text>
</svg></body></html>
